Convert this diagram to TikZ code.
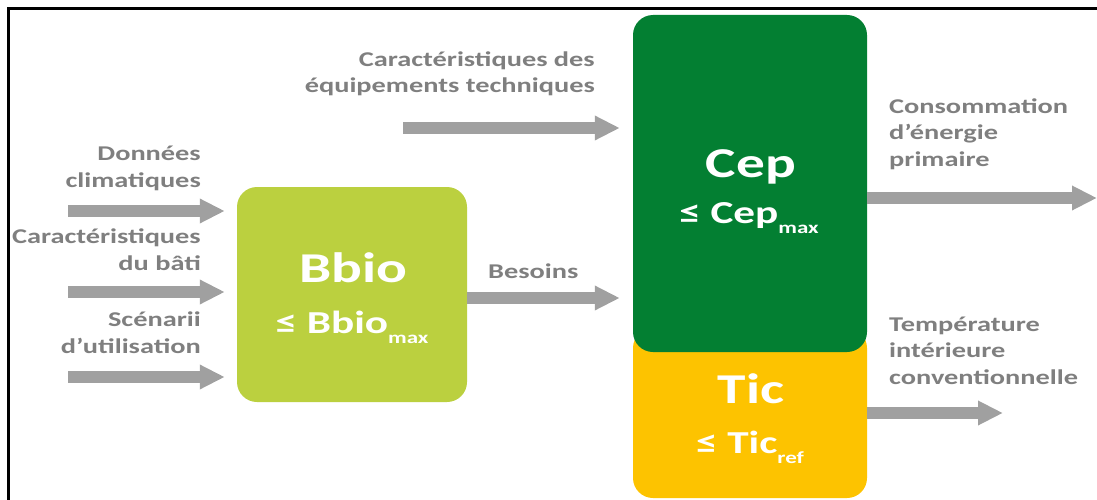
\documentclass[tikz,border=0pt]{standalone}
\usepackage{fontspec}
\setmainfont{Carlito}[FakeStretch=1.35]
\usetikzlibrary{arrows.meta}
\definecolor{bbiogreen}{HTML}{BBD03F}
\definecolor{cepgreen}{HTML}{037F32}
\definecolor{ticyellow}{HTML}{FDC300}
\definecolor{flowgray}{HTML}{A0A0A0}
\definecolor{labelgray}{HTML}{7F7F7F}
\tikzset{
  flow/.style={draw=flowgray, line width=12pt, -{Triangle[length=25pt,width=23pt]}},
  inlabel/.style={font=\bfseries\fontsize{21}{26.5}\selectfont, text=labelgray, inner sep=0pt},
  bloc/.style={rounded corners=20pt, inner sep=0pt},
  bigtext/.style={font=\bfseries\fontsize{42.5}{42.5}\selectfont, text=white, inner sep=0pt},
  limtext/.style={font=\bfseries\fontsize{32}{32}\selectfont, text=white, inner sep=0pt},
}
\newcommand{\lowidx}[1]{\raisebox{-10pt}{\fontsize{17}{17}\selectfont #1}}
\begin{document}
\begin{tikzpicture}[x=1pt,y=-1pt]
\useasboundingbox (0,0) rectangle (1097,500);
\draw[line width=3pt] (8,500) -- (8,9) -- (1097,9);
% blocs
\node[bloc, fill=ticyellow, minimum width=234pt, minimum height=170pt] (tic) at (750,413) {};
\node[bloc, fill=cepgreen, minimum width=234pt, minimum height=337pt] (cep) at (750,183.5) {};
\node[bloc, fill=bbiogreen, minimum width=230pt, minimum height=215pt] (bbio) at (352,294.5) {};
\node[bigtext, anchor=base] (bbioname) at (353,282) {Bbio};
\node[limtext, anchor=base] (bbiolim) at (352,333) {≤ Bbio\lowidx{max}};
\node[bigtext, anchor=base] (cepname) at (751,177) {Cep};
\node[limtext, anchor=base] (ceplim) at (749,223) {≤ Cep\lowidx{max}};
\node[bigtext, anchor=base] (ticname) at (751,403) {Tic};
\node[limtext, anchor=base] (ticlim) at (750,453) {≤ Tic\lowidx{ref}};
% entrees
\coordinate (clim) at (68,211);
\coordinate (bati) at (68,292);
\coordinate (scen) at (68,377);
\coordinate (equip) at (403,128);
\coordinate (cepout) at (1097,198);
\coordinate (ticout) at (1003,413);
\draw[flow, shorten >=12pt] (clim) -- (clim -| bbio.west);
\draw[flow, shorten >=12pt] (bati) -- (bati -| bbio.west);
\draw[flow, shorten >=12pt] (scen) -- (scen -| bbio.west);
\draw[flow, shorten >=13pt] (equip) -- (equip -| cep.west);
\draw[flow, shorten >=13pt] ([yshift=-3.5pt]bbio.east) -- ([yshift=-3.5pt]bbio.east -| cep.west);
\draw[flow] (cepout -| cep.east) -- (cepout);
\draw[flow] (ticout -| tic.east) -- (ticout);
% textes (base = derniere ligne)
\node[inlabel, align=right, anchor=base east] (climlab) at (201,187) {Données\\climatiques};
\node[inlabel, align=right, anchor=base east] (batilab) at (201,270) {Caractéristiques\\du bâti};
\node[inlabel, align=right, anchor=base east] (scenlab) at (201,353) {Scénarii\\d’utilisation};
\node[inlabel, align=right, anchor=base east] (equiplab) at (595,93) {Caractéristiques des\\équipements techniques};
\node[inlabel, anchor=base west] (besoinslab) at (488,278) {Besoins};
\node[inlabel, align=left, anchor=base west] (ceplab) at (889,166) {Consommation\\d’énergie\\primaire};
\node[inlabel, align=left, anchor=base west] (ticlab) at (889,384) {Température\\intérieure\\conventionnelle};
\end{tikzpicture}
\end{document}
